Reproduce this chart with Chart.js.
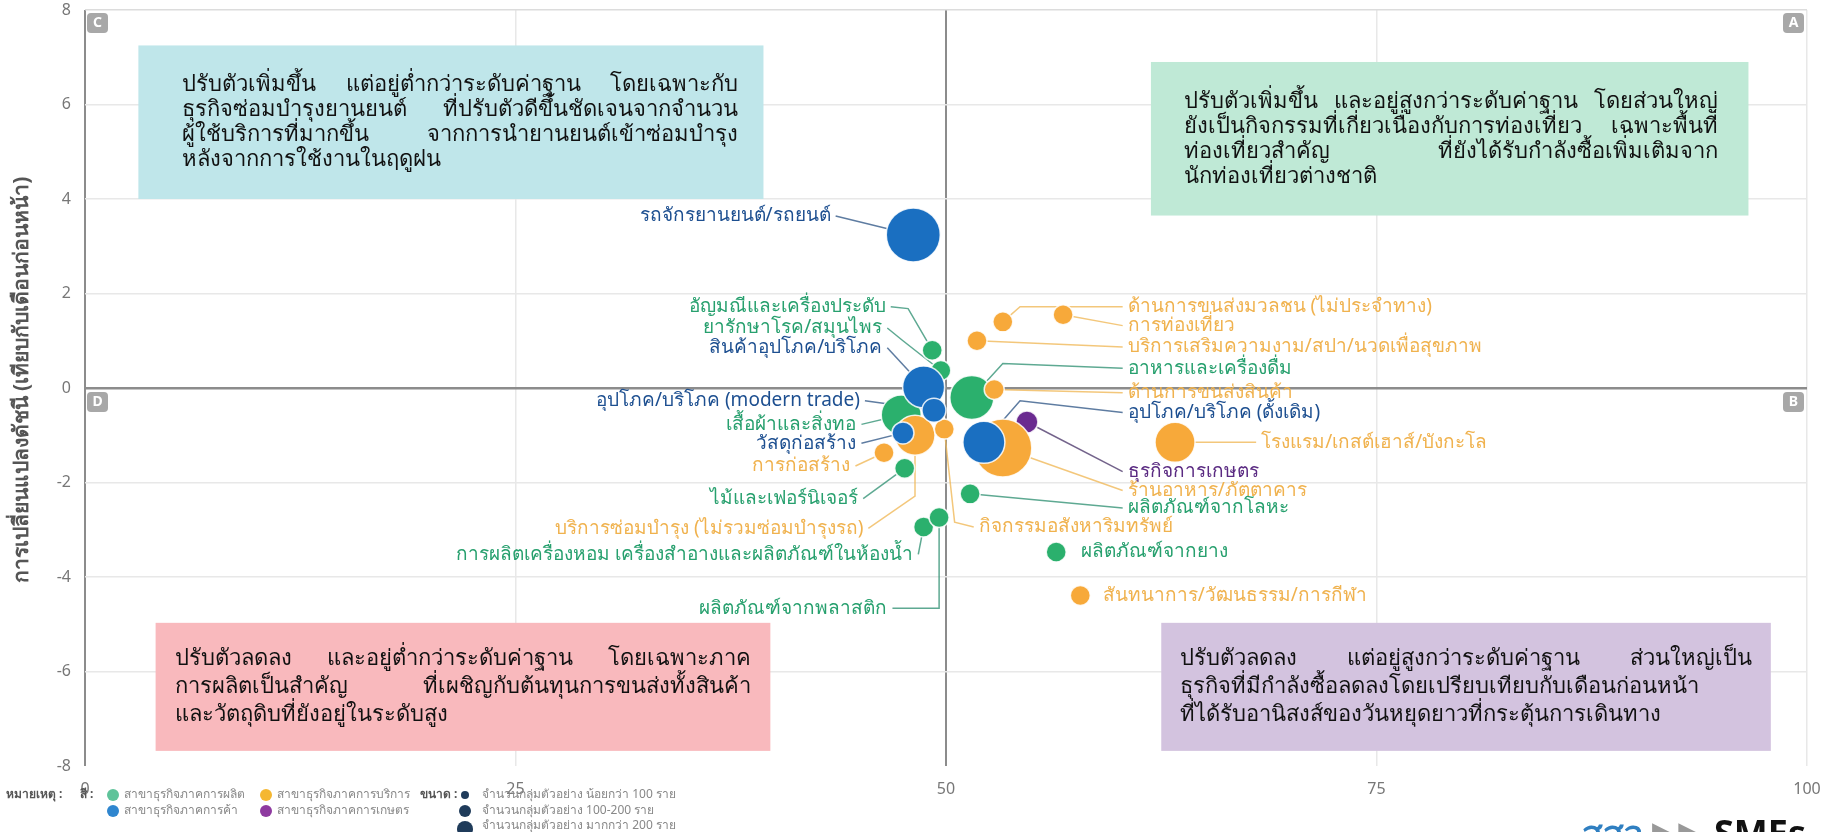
<!DOCTYPE html>
<html>
<head>
<meta charset="utf-8">
<script src="https://cdn.jsdelivr.net/npm/chart.js@4.4.0/dist/chart.umd.min.js"></script>
<style>
html, body { margin: 0; padding: 0; background: #fff; overflow: hidden; }
</style>
</head>
<body>
<canvas id="michart" width="1826" height="832"></canvas>
<script>
// ---- datos ----
const xTicks = [0, 25, 50, 75, 100]
const yTicks = [-8, -6, -4, -2, 0, 2, 4, 6, 8]

// ภาคการค้า (azul)
const comercioNombres = ['รถจักรยานยนต์/รถยนต์', 'สินค้าอุปโภค/บริโภค', 'อุปโภค/บริโภค (modern trade)', 'วัสดุก่อสร้าง', 'อุปโภค/บริโภค (ดั้งเดิม)']
const comercioX = [48.1, 48.7, 49.3, 47.5, 52.2]
const comercioY = [3.24, 0.02, -0.47, -0.95, -1.15]
const comercioR = [27, 21, 12, 11, 21]

// ภาคการบริการ (naranja)
const servicioNombres = ['บริการซ่อมบำรุง (ไม่รวมซ่อมบำรุงรถ)', 'การก่อสร้าง', 'กิจกรรมอสังหาริมทรัพย์', 'ด้านการขนส่งมวลชน (ไม่ประจำทาง)', 'การท่องเที่ยว', 'บริการเสริมความงาม/สปา/นวดเพื่อสุขภาพ', 'ด้านการขนส่งสินค้า', 'ร้านอาหาร/ภัตตาคาร', 'โรงแรม/เกสต์เฮาส์/บังกะโล', 'สันทนาการ/วัฒนธรรม/การกีฬา']
const servicioX = [48.2, 46.4, 49.9, 53.3, 56.8, 51.8, 52.8, 53.3, 63.3, 57.8]
const servicioY = [-1.0, -1.37, -0.87, 1.4, 1.55, 1.0, -0.03, -1.27, -1.15, -4.39]
const servicioR = [20, 10, 10, 10, 10, 10, 10, 29, 20, 10]

// ภาคการผลิต (verde)
const produccionNombres = ['อัญมณีและเครื่องประดับ', 'ยารักษาโรค/สมุนไพร', 'เสื้อผ้าและสิ่งทอ', 'ไม้และเฟอร์นิเจอร์', 'การผลิตเครื่องหอม เครื่องสำอางและผลิตภัณฑ์ในห้องน้ำ', 'ผลิตภัณฑ์จากพลาสติก', 'อาหารและเครื่องดื่ม', 'ผลิตภัณฑ์จากโลหะ', 'ผลิตภัณฑ์จากยาง']
const produccionX = [49.2, 49.7, 47.4, 47.6, 48.7, 49.6, 51.5, 51.4, 56.4]
const produccionY = [0.8, 0.37, -0.57, -1.7, -2.94, -2.74, -0.2, -2.24, -3.47]
const produccionR = [10, 10, 20, 10, 10, 10, 22, 10, 10]

// ภาคการเกษตร (morado)
const agroNombres = ['ธุรกิจการเกษตร']
const agroX = [54.7]
const agroY = [-0.72]
const agroR = [11]

// ---- posiciones de etiquetas (unidades del eje) ----
// [x, y, alineacion, codoX, codoY, conLinea]
const etiquetas = {
  'รถจักรยานยนต์/รถยนต์': [43.3, 3.64, 'right'],
  'อัญมณีและเครื่องประดับ': [46.5, 1.72, 'right', 47.8, 1.68],
  'ยารักษาโรค/สมุนไพร': [46.3, 1.27, 'right', 47.5, 1.0],
  'สินค้าอุปโภค/บริโภค': [46.3, 0.85, 'right'],
  'อุปโภค/บริโภค (modern trade)': [45.0, -0.27, 'right'],
  'เสื้อผ้าและสิ่งทอ': [44.8, -0.77, 'right'],
  'วัสดุก่อสร้าง': [44.8, -1.17, 'right'],
  'การก่อสร้าง': [44.45, -1.65, 'right'],
  'ไม้และเฟอร์นิเจอร์': [44.9, -2.34, 'right'],
  'บริการซ่อมบำรุง (ไม่รวมซ่อมบำรุงรถ)': [45.2, -2.97, 'right', 48.2, -2.29],
  'การผลิตเครื่องหอม เครื่องสำอางและผลิตภัณฑ์ในห้องน้ำ': [48.1, -3.52, 'right'],
  'ผลิตภัณฑ์จากพลาสติก': [46.6, -4.66, 'right', 49.6, -4.66],
  'ด้านการขนส่งมวลชน (ไม่ประจำทาง)': [60.55, 1.72, 'left', 54.3, 1.72],
  'การท่องเที่ยว': [60.55, 1.32, 'left'],
  'บริการเสริมความงาม/สปา/นวดเพื่อสุขภาพ': [60.55, 0.87, 'left'],
  'อาหารและเครื่องดื่ม': [60.55, 0.42, 'left', 53.3, 0.52],
  'ด้านการขนส่งสินค้า': [60.55, -0.1, 'left'],
  'อุปโภค/บริโภค (ดั้งเดิม)': [60.55, -0.52, 'left', 54.3, -0.27],
  'โรงแรม/เกสต์เฮาส์/บังกะโล': [68.3, -1.15, 'left'],
  'ธุรกิจการเกษตร': [60.55, -1.77, 'left'],
  'ร้านอาหาร/ภัตตาคาร': [60.55, -2.17, 'left'],
  'ผลิตภัณฑ์จากโลหะ': [60.55, -2.54, 'left'],
  'กิจกรรมอสังหาริมทรัพย์': [51.9, -2.94, 'left', 50.5, -2.84],
  'ผลิตภัณฑ์จากยาง': [57.85, -3.47, 'left', null, null, false],
  'สันทนาการ/วัฒนธรรม/การกีฬา': [59.1, -4.39, 'left', null, null, false]
}

// ---- cuadros de texto de los cuadrantes ----
const cuadros = [
  { x0: 3.1, x1: 39.4, y0: 7.25, y1: 4.0, fondo: '#bfe6ea', padL: 44, padR: 25, alto: 25, lineas: [
    'ปรับตัวเพิ่มขึ้น แต่อยู่ต่ำกว่าระดับค่าฐาน โดยเฉพาะกับ',
    'ธุรกิจซ่อมบำรุงยานยนต์ ที่ปรับตัวดีขึ้นชัดเจนจากจำนวน',
    'ผู้ใช้บริการที่มากขึ้น จากการนำยานยนต์เข้าซ่อมบำรุง',
    'หลังจากการใช้งานในฤดูฝน'] },
  { x0: 61.9, x1: 96.6, y0: 6.9, y1: 3.65, fondo: '#bfe9d6', padL: 33, padR: 30, alto: 25, lineas: [
    'ปรับตัวเพิ่มขึ้น และอยู่สูงกว่าระดับค่าฐาน โดยส่วนใหญ่',
    'ยังเป็นกิจกรรมที่เกี่ยวเนื่องกับการท่องเที่ยว เฉพาะพื้นที่',
    'ท่องเที่ยวสำคัญ ที่ยังได้รับกำลังซื้อเพิ่มเติมจาก',
    'นักท่องเที่ยวต่างชาติ'] },
  { x0: 4.1, x1: 39.8, y0: -4.97, y1: -7.68, fondo: '#f9b9bd', padL: 19, padR: 19, alto: 28, lineas: [
    'ปรับตัวลดลง และอยู่ต่ำกว่าระดับค่าฐาน โดยเฉพาะภาค',
    'การผลิตเป็นสำคัญ ที่เผชิญกับต้นทุนการขนส่งทั้งสินค้า',
    'และวัตถุดิบที่ยังอยู่ในระดับสูง'] },
  { x0: 62.5, x1: 97.9, y0: -4.97, y1: -7.68, fondo: '#d3c3df', padL: 19, padR: 19, alto: 28, lineas: [
    'ปรับตัวลดลง แต่อยู่สูงกว่าระดับค่าฐาน ส่วนใหญ่เป็น',
    'ธุรกิจที่มีกำลังซื้อลดลงโดยเปรียบเทียบกับเดือนก่อนหน้า',
    'ที่ได้รับอานิสงส์ของวันหยุดยาวที่กระตุ้นการเดินทาง'] }
]

const colores = {
  comercio: { punto: '#1a6fc1', texto: '#1d4f90', linea: 'rgba(40,80,130,0.75)' },
  servicio: { punto: '#f7a93a', texto: '#f0b24e', linea: 'rgba(240,185,90,0.8)' },
  produccion: { punto: '#2bb06d', texto: '#27a06e', linea: 'rgba(40,140,110,0.75)' },
  agro: { punto: '#6a2a90', texto: '#5a2a82', linea: 'rgba(80,60,110,0.8)' }
}

const fuente = '"Noto Sans", "DejaVu Sans", sans-serif'

const armar = (nombres, xs, ys, rs) => nombres.map((n, i) => ({ x: xs[i], y: ys[i], r: rs[i], nombre: n }))

const grupos = [
  { clave: 'comercio', label: 'สาขาธุรกิจภาคการค้า', data: armar(comercioNombres, comercioX, comercioY, comercioR) },
  { clave: 'servicio', label: 'สาขาธุรกิจภาคการบริการ', data: armar(servicioNombres, servicioX, servicioY, servicioR) },
  { clave: 'produccion', label: 'สาขาธุรกิจภาคการผลิต', data: armar(produccionNombres, produccionX, produccionY, produccionR) },
  { clave: 'agro', label: 'สาขาธุรกิจภาคการเกษตร', data: armar(agroNombres, agroX, agroY, agroR) }
]

const data = {
  datasets: grupos.map((g, i) => ({
    label: g.label,
    clave: g.clave,
    data: g.data,
    backgroundColor: colores[g.clave].punto,
    borderColor: 'rgba(255,255,255,0.85)',
    borderWidth: 1.5,
    order: i
  }))
}

function escribirJustificado(ctx, texto, x, y, ancho, justificar) {
  const palabras = texto.split(' ')
  const total = palabras.reduce((s, p) => s + ctx.measureText(p).width, 0)
  const minimo = 7
  const necesario = total + minimo * (palabras.length - 1)
  ctx.save()
  ctx.translate(x, y)
  if (necesario > ancho) ctx.scale(ancho / necesario, 1)
  let hueco = minimo
  if (justificar && palabras.length > 1 && necesario < ancho) hueco = (ancho - total) / (palabras.length - 1)
  let cx = 0
  palabras.forEach(p => { ctx.fillText(p, cx, 0); cx += ctx.measureText(p).width + hueco })
  ctx.restore()
}

function insignia(ctx, letra, x, y) {
  ctx.fillStyle = '#a8a8a8'
  ctx.beginPath()
  ctx.roundRect(x, y, 21, 20, 4)
  ctx.fill()
  ctx.fillStyle = '#fff'
  ctx.font = 'bold 14px ' + fuente
  ctx.textAlign = 'center'
  ctx.textBaseline = 'middle'
  ctx.fillText(letra, x + 10.5, y + 10.5)
}

const cuadrantesPlugin = {
  id: 'cuadrantes',
  beforeDatasetsDraw(chart) {
    const { ctx, scales: { x, y }, chartArea } = chart
    ctx.save()
    // cuadros de texto
    cuadros.forEach(c => {
      const px0 = x.getPixelForValue(c.x0), px1 = x.getPixelForValue(c.x1)
      const py0 = y.getPixelForValue(c.y0), py1 = y.getPixelForValue(c.y1)
      ctx.fillStyle = c.fondo
      ctx.fillRect(px0, py0, px1 - px0, py1 - py0)
      ctx.fillStyle = '#111'
      ctx.font = '22px ' + fuente
      ctx.textAlign = 'left'
      ctx.textBaseline = 'middle'
      const inicio = (py0 + py1) / 2 - (c.lineas.length - 1) * c.alto / 2
      const ancho = px1 - px0 - c.padL - c.padR
      c.lineas.forEach((l, i) => {
        escribirJustificado(ctx, l, px0 + c.padL, inicio + i * c.alto, ancho, i < c.lineas.length - 1)
      })
    })
    // insignias A B C D
    insignia(ctx, 'C', chartArea.left + 2, chartArea.top + 3)
    insignia(ctx, 'A', chartArea.right - 24, chartArea.top + 3)
    insignia(ctx, 'D', chartArea.left + 2, y.getPixelForValue(0) + 4)
    insignia(ctx, 'B', chartArea.right - 24, y.getPixelForValue(0) + 4)

    // lineas guia (debajo de las burbujas)
    ctx.lineWidth = 1.5
    chart.data.datasets.forEach(ds => {
      const col = colores[ds.clave]
      ds.data.forEach(p => {
        const e = etiquetas[p.nombre]
        if (!e || e[5] === false) return
        const tx = x.getPixelForValue(e[0]), ty = y.getPixelForValue(e[1])
        const sx = e[2] === 'right' ? tx + 5 : tx - 5
        ctx.strokeStyle = col.linea
        ctx.beginPath()
        ctx.moveTo(sx, ty)
        if (e[3] != null) ctx.lineTo(x.getPixelForValue(e[3]), y.getPixelForValue(e[4]))
        ctx.lineTo(x.getPixelForValue(p.x), y.getPixelForValue(p.y))
        ctx.stroke()
      })
    })
    ctx.restore()
  },
  afterDatasetsDraw(chart) {
    const { ctx, scales: { x, y } } = chart
    ctx.save()
    ctx.font = '19px ' + fuente
    ctx.textBaseline = 'middle'
    chart.data.datasets.forEach(ds => {
      const col = colores[ds.clave]
      ds.data.forEach(p => {
        const e = etiquetas[p.nombre]
        if (!e) return
        ctx.fillStyle = col.texto
        ctx.textAlign = e[2]
        ctx.fillText(p.nombre, x.getPixelForValue(e[0]), y.getPixelForValue(e[1]))
      })
    })
    ctx.restore()
  },
  afterDraw(chart) {
    const { ctx } = chart
    ctx.save()
    // titulo del eje y
    ctx.translate(22, 380)
    ctx.rotate(-Math.PI / 2)
    ctx.fillStyle = '#555'
    ctx.font = 'bold 21px ' + fuente
    ctx.textAlign = 'center'
    ctx.textBaseline = 'middle'
    ctx.fillText('การเปลี่ยนแปลงดัชนี (เทียบกับเดือนก่อนหน้า)', 0, 0)
    ctx.restore()

    // nota / leyenda inferior
    ctx.save()
    ctx.textBaseline = 'middle'
    ctx.textAlign = 'left'
    ctx.fillStyle = '#555'
    ctx.font = 'bold 12px ' + fuente
    ctx.fillText('หมายเหตุ :', 6, 795)
    ctx.fillText('สี :', 80, 795)
    ctx.fillText('ขนาด :', 420, 795)
    const punto = (cx, cy, r, c) => { ctx.fillStyle = c; ctx.beginPath(); ctx.arc(cx, cy, r, 0, Math.PI * 2); ctx.fill() }
    const nota = (t, cx, cy) => { ctx.fillStyle = '#888'; ctx.font = '12px ' + fuente; ctx.fillText(t, cx, cy) }
    punto(113, 795, 6, '#5fc39a'); nota('สาขาธุรกิจภาคการผลิต', 124, 795)
    punto(266, 795, 6, '#f5b731'); nota('สาขาธุรกิจภาคการบริการ', 277, 795)
    punto(113, 811, 6, '#2f86cf'); nota('สาขาธุรกิจภาคการค้า', 124, 811)
    punto(266, 811, 6, '#8e3aa0'); nota('สาขาธุรกิจภาคการเกษตร', 277, 811)
    punto(465, 795, 4, '#1f3b5a'); nota('จำนวนกลุ่มตัวอย่าง น้อยกว่า 100 ราย', 482, 795)
    punto(465, 811, 6, '#1f3b5a'); nota('จำนวนกลุ่มตัวอย่าง 100-200 ราย', 482, 811)
    punto(465, 829, 8, '#1f3b5a'); nota('จำนวนกลุ่มตัวอย่าง มากกว่า 200 ราย', 482, 826)

    // logo cortado abajo a la derecha
    ctx.textBaseline = 'top'
    ctx.font = 'bold 34px ' + fuente
    ctx.fillStyle = '#2f7fc1'
    ctx.fillText('สสว', 1582, 818)
    ctx.fillStyle = '#999'
    ctx.fillText('▶▶', 1652, 818)
    ctx.fillStyle = '#111'
    ctx.font = 'bold 36px ' + fuente
    ctx.fillText('SMEs', 1714, 818)
    ctx.restore()
  }
}

const config = {
  type: 'bubble',
  data,
  options: {
    responsive: false,
    animation: false,
    devicePixelRatio: 1,
    layout: { autoPadding: false, padding: { left: 0, right: 19, top: 0, bottom: 0 } },
    plugins: { legend: { display: false }, tooltip: { enabled: false } },
    scales: {
      x: {
        type: 'linear', min: 0, max: 100,
        afterBuildTicks: s => { s.ticks = xTicks.map(v => ({ value: v })) },
        afterFit: s => { s.height = 66; s.paddingLeft = 0; s.paddingRight = 0 },
        ticks: { color: '#777', font: { size: 16, family: fuente }, padding: 14 },
        border: { display: false },
        grid: {
          drawTicks: false,
          color: ctx => (ctx.tick && (ctx.tick.value === 0 || ctx.tick.value === 50)) ? '#8c8c8c' : '#e8e8e8',
          lineWidth: ctx => (ctx.tick && (ctx.tick.value === 0 || ctx.tick.value === 50)) ? 2 : 1.5
        }
      },
      y: {
        type: 'linear', min: -8, max: 8,
        afterBuildTicks: s => { s.ticks = yTicks.map(v => ({ value: v })) },
        afterFit: s => { s.width = 85; s.paddingTop = 10; s.paddingBottom = 0 },
        ticks: { color: '#777', font: { size: 16, family: fuente }, padding: 14 },
        border: { display: false },
        grid: {
          drawTicks: false,
          color: ctx => {
            if (!ctx.tick) return '#e8e8e8'
            if (ctx.tick.value === 0) return '#8c8c8c'
            if (ctx.tick.value === -8) return 'rgba(0,0,0,0)'
            if (ctx.tick.value === 8) return '#dcdcdc'
            return '#e8e8e8'
          },
          lineWidth: ctx => (ctx.tick && ctx.tick.value === 0) ? 2.5 : 1.5
        }
      }
    }
  },
  plugins: [cuadrantesPlugin]
}

document.addEventListener('DOMContentLoaded', () => {
  const chart1 = new Chart(document.getElementById('michart'), config)
})
</script>
</body>
</html>
